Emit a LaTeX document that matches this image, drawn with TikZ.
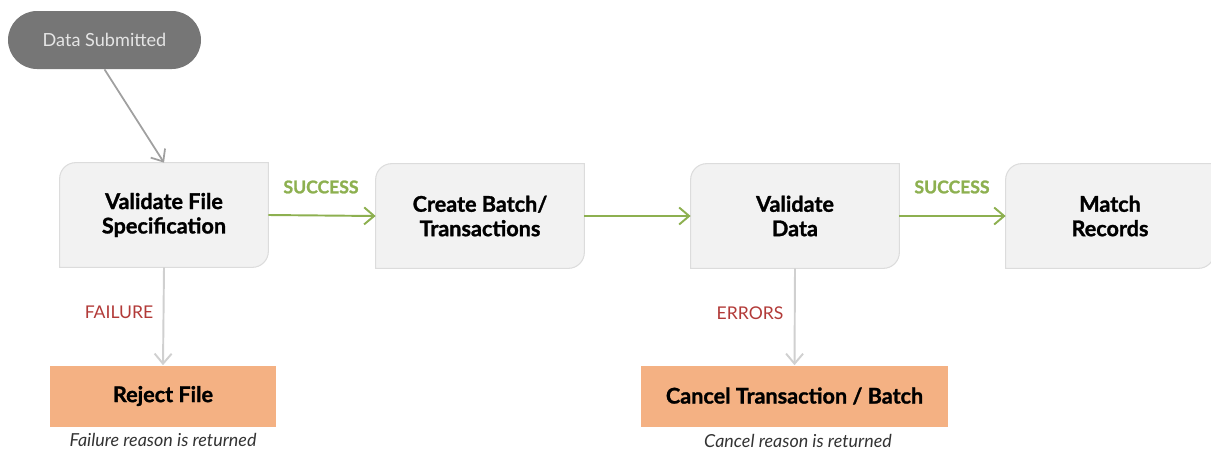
\documentclass[tikz,border=0pt]{standalone}
\usepackage{fontspec}
\setmainfont{Lato}[BoldFeatures={FakeBold=1.3}]
\usepackage{xcolor}
\usetikzlibrary{arrows.meta}
\usetikzlibrary{backgrounds}

\definecolor{boxfill}{HTML}{F2F2F2}
\definecolor{boxline}{HTML}{DCDCDC}
\definecolor{startfill}{HTML}{767676}
\definecolor{rejectfill}{HTML}{F4B183}
\definecolor{okgreen}{HTML}{8DB050}
\definecolor{failred}{HTML}{B23A38}
\definecolor{flowgray}{HTML}{A0A0A0}
\definecolor{downgray}{HTML}{D0D0D0}

\tikzset{
    procbox/.style={minimum width=4.16cm, minimum height=2.08cm, align=center,
        font=\fontsize{12.3}{13.9}\selectfont\bfseries},
    startbox/.style={fill=startfill, rounded corners=0.58cm, minimum width=3.86cm,
        minimum height=1.16cm, text=white!90!black, font=\fontsize{10.3}{12}\selectfont},
    endbox/.style={fill=rejectfill, minimum height=1.22cm,
        font=\fontsize{12.3}{13.9}\selectfont\bfseries},
    note/.style={font=\fontsize{10.2}{12}\selectfont\itshape, text=black!80},
    oklabel/.style={font=\fontsize{10}{12}\selectfont\bfseries, text=okgreen},
    badlabel/.style={font=\fontsize{10}{12}\selectfont, text=failred},
    okarrow/.style={draw=okgreen, line width=1.1pt, -{Straight Barb[length=2mm,width=3.4mm]}},
    greyarrow/.style={draw=flowgray, line width=1pt, -{Straight Barb[length=2mm,width=3.4mm]}},
    downarrow/.style={draw=downgray, line width=1.1pt, -{Straight Barb[length=2mm,width=3.4mm]}}
}

\begin{document}
\begin{tikzpicture}
    \useasboundingbox (0,0) rectangle (24.22,-9);

    \node[startbox] (ds) at (2.09,-0.80) {Data Submitted};

    \node[procbox] (vfs) at (3.28,-4.30) {Validate File\\Specification};
    \node[procbox] (cbt) at (9.60,-4.32) {Create Batch/\\Transactions};
    \node[procbox] (vd) at (15.90,-4.32) {Validate\\Data};
    \node[procbox] (mr) at (22.20,-4.32) {Match\\Records};

    \node[endbox, minimum width=4.52cm] (rej) at (3.26,-7.92) {Reject File};
    \node[endbox, minimum width=6.14cm] (cnl) at (15.89,-7.92) {Cancel Transaction / Batch};

    \node[note] (rejnote) at (3.26,-8.80) {Failure reason is returned};
    \node[note] (cnlnote) at (15.96,-8.82) {Cancel reason is returned};

    % process boxes: top left and bottom right corners rounded
    \begin{scope}[on background layer]
        \foreach \n in {vfs,cbt,vd,mr}
            \draw[fill=boxfill, draw=boxline, line width=0.6pt]
                (\n.north east) -- ([yshift=0.32cm]\n.south east)
                arc[start angle=0, end angle=-90, radius=0.32cm]
                -- (\n.south west) -- ([yshift=-0.32cm]\n.north west)
                arc[start angle=180, end angle=90, radius=0.32cm] -- cycle;
    \end{scope}

    \draw[greyarrow] (ds.south) -- (vfs.north);
    \draw[okarrow] (vfs.east) -- (cbt.west);
    \draw[okarrow] (cbt.east) -- (vd.west);
    \draw[okarrow] (vd.east) -- (mr.west);
    \draw[downarrow] (vfs.south) -- (rej.north);
    \draw[downarrow] (vd.south) -- (cnl.north);

    \node[oklabel] (ok1) at (6.42,-3.74) {SUCCESS};
    \node[oklabel] (ok2) at (19.04,-3.74) {SUCCESS};
    \node[badlabel] (fail) at (2.38,-6.24) {FAILURE};
    \node[badlabel] (err) at (15.00,-6.26) {ERRORS};
\end{tikzpicture}
\end{document}
